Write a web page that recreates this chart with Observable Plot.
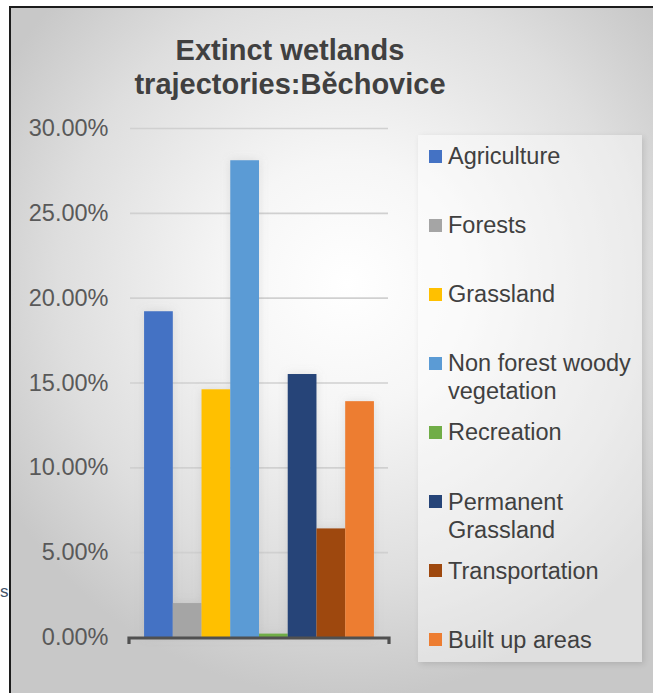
<!DOCTYPE html>
<html>
<head>
<meta charset="utf-8">
<script src="https://cdn.jsdelivr.net/npm/d3@7"></script>
<script src="https://cdn.jsdelivr.net/npm/@observablehq/plot@0.6"></script>
<style>
  html, body { margin: 0; padding: 0; background: #fff; }
  #chart {
    position: relative; width: 653px; height: 693px; overflow: hidden;
    font-family: "Liberation Sans", Arial, sans-serif;
  }
  #panel {
    position: absolute; left: 9px; top: 6px; right: -4px; bottom: -4px;
    border-left: 2px solid #1c1c1c; border-top: 2px solid #1c1c1c;
    background: radial-gradient(ellipse 62% 60% at 52% 40%, #ffffff 0%, #f6f6f6 30%, #dedede 72%, #c8c8c8 100%);
  }
  #stray { position: absolute; left: 0; top: 583px; font-size: 17px; line-height: 17px; color: #44546a; }
  #title {
    position: absolute; left: 0; width: 580px; top: 33px; text-align: center;
    font-weight: bold; font-size: 29px; line-height: 34px; color: #404040;
  }
  #plot { position: absolute; left: 0; top: 0; }
  #legend {
    position: absolute; left: 418px; top: 135px; width: 224px; height: 527px;
    background: rgba(255, 255, 255, 0.42);
    box-shadow: 2px 2px 6px rgba(0, 0, 0, 0.12);
  }
  .item { position: absolute; left: 11px; }
  .sw { position: absolute; left: 0; top: 7.8px; width: 13px; height: 13px; }
  .lab { margin-left: 19px; width: 200px; font-size: 23.5px; line-height: 28px; color: #404040; }
</style>
</head>
<body>
<div id="chart">
  <div id="panel"></div>
  <div id="stray">s</div>
  <div id="title"></div>
  <div id="plot"></div>
  <div id="legend"></div>
</div>
<script>
// Share of extinct wetlands by land-cover trajectory, Běchovice
const categories = [
  "Agriculture", "Forests", "Grassland", "Non forest woody vegetation",
  "Recreation", "Permanent Grassland", "Transportation", "Built up areas"
];
const shares = [0.192, 0.020, 0.146, 0.281, 0.002, 0.155, 0.064, 0.139];
const colors = [
  "#4472C4", "#A5A5A5", "#FFC000", "#5B9BD5",
  "#70AD47", "#264478", "#9E480E", "#ED7D31"
];
const yTicks = [0, 0.05, 0.10, 0.15, 0.20, 0.25, 0.30];
const titleLines = ["Extinct wetlands", "trajectories:Běchovice"];

const data = categories.map((name, i) => ({name, value: shares[i]}));

// Title
d3.select("#title").selectAll("div").data(titleLines).join("div").text(d => d);

// Bottom axis line with end ticks, drawn at the plot frame edges
const baseline = (index, scales, values, dim) => {
  const l = dim.marginLeft - 1;
  const r = dim.width - dim.marginRight + 1;
  const b = scales.y(0) + 1;
  return d3.create("svg:path")
    .attr("d", `M${l},${b + 6}V${b}H${r}V${b + 6}`)
    .attr("fill", "none")
    .attr("stroke", "#505050")
    .attr("stroke-width", 3.2)
    .node();
};

const chart = Plot.plot({
  width: 653,
  height: 693,
  marginLeft: 130,
  marginRight: 265,
  marginTop: 128,
  marginBottom: 56,
  x: {domain: categories, paddingInner: 0, paddingOuter: 0.49, round: false, axis: null},
  y: {domain: [0, 0.3], label: null},
  color: {domain: categories, range: colors},
  style: {
    background: "transparent",
    fontFamily: "'Liberation Sans', Arial, sans-serif",
    fontSize: "23.5px",
    color: "#595959",
    overflow: "visible"
  },
  marks: [
    Plot.gridY(yTicks.slice(1), {stroke: "#d0d0d0", strokeWidth: 1.6, strokeOpacity: 1}),
    Plot.axisY(yTicks, {tickFormat: d3.format(".2%"), tickSize: 0, tickPadding: 22, fill: "#595959", label: null}),
    // soft halo behind the bars
    Plot.barY(data, {x: "name", y: "value", fill: "#8c8c8c", fillOpacity: 0.22}),
    Plot.barY(data, {x: "name", y: "value", fill: "name"}),
    baseline
  ]
});

// blur the halo bars
const defs = d3.select(chart).insert("defs", ":first-child");
defs.append("filter").attr("id", "halo").attr("x", "-50%").attr("y", "-20%")
  .attr("width", "200%").attr("height", "140%")
  .append("feGaussianBlur").attr("stdDeviation", 5);
const barGroups = chart.querySelectorAll('g[aria-label="bar"]');
if (barGroups.length) barGroups[0].setAttribute("filter", "url(#halo)");

document.getElementById("plot").appendChild(chart);

// Legend
const items = d3.select("#legend").selectAll(".item").data(categories).join("div")
  .attr("class", "item")
  .style("top", (d, i) => (7.2 + i * 69.07) + "px");
items.append("span").attr("class", "sw").style("background", (d, i) => colors[i]);
items.append("div").attr("class", "lab").text(d => d);
</script>
</body>
</html>
